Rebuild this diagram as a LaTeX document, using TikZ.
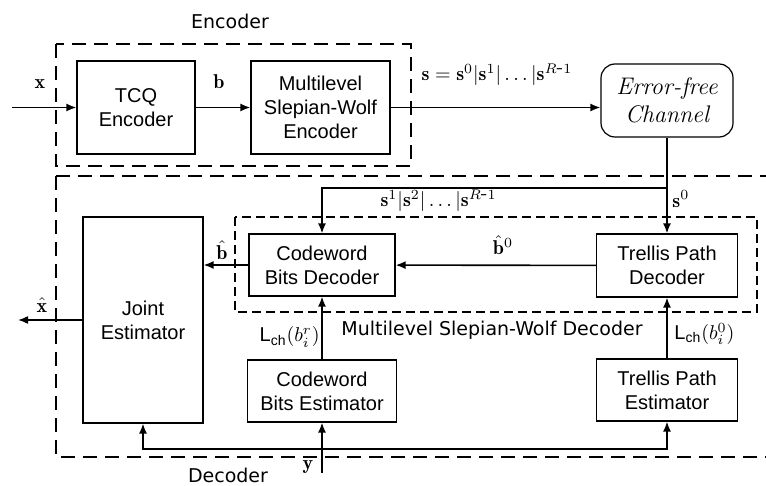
\documentclass[tikz,border=0pt]{standalone}
\usepackage{fontspec}
\setsansfont{Liberation Sans}
\newfontfamily\handfont{DejaVu Sans}
\usetikzlibrary{arrows.meta}

\begin{document}
\begin{tikzpicture}[x=0.5pt, y=-0.5pt, >={Latex[length=5pt,width=4pt]},
  blk/.style={draw, line width=0.6pt, inner sep=0pt, align=center, font=\sffamily},
  outerbox/.style={line width=1.25pt, dash pattern=on 7pt off 4pt},
  innerbox/.style={line width=0.8pt, dash pattern=on 4.5pt off 2.5pt},
  wire/.style={line width=0.8pt},
  lbl/.style={inner sep=0pt},
  tag/.style={inner sep=0pt, font=\handfont\fontsize{9.5}{11}\selectfont}]
\useasboundingbox (0,0) rectangle (766,486);
\def\bus{449}

\draw[outerbox] (56,44) rectangle (411,166);
\draw[outerbox] (56,176) -- (780,176) (56,176) -- (56,457) -- (780,457);
\draw[innerbox] (235,217) rectangle (757,312);

\node[blk, minimum width=59pt, minimum height=46.5pt] (tcq) at (136,107.5) {TCQ\\Encoder};
\node[blk, minimum width=69.5pt, minimum height=46.5pt] (mswenc) at (320.5,107.5) {Multilevel\\Slepian-Wolf\\Encoder};
\node[blk, rounded corners=7pt, minimum width=66pt, minimum height=36.5pt, font=\itshape\large] (chan) at (667,100.5) {Error-free\\Channel};
\node[blk, minimum width=73pt, minimum height=31pt] (cbd) at (322,265) {Codeword\\Bits Decoder};
\node[blk, minimum width=70.5pt, minimum height=31.5pt] (tpd) at (667,265.5) {Trellis Path\\Decoder};
\node[blk, minimum width=74.5pt, minimum height=31pt] (cbe) at (322,391) {Codeword\\Bits Estimator};
\node[blk, minimum width=70.5pt, minimum height=31pt] (tpe) at (667,390) {Trellis Path\\Estimator};
\node[blk, minimum width=60pt, minimum height=103pt] (joint) at (143,320) {Joint\\Estimator};

\coordinate (xin) at (12,107.5);
\coordinate (xout) at (18,320);
\coordinate (brk) at (667,188);
\coordinate (yin) at (322,473);
\coordinate (bus) at (322,\bus);

\draw[wire, ->] (xin) -- (tcq);
\draw[wire, ->] (tcq) -- (mswenc);
\draw[wire, ->] (mswenc) -- (mswenc -| chan.west);
\draw[wire, ->] (chan) -- (tpd);
\draw[wire, ->] (brk) -| (cbd.north);
\draw[wire, ->] (tpd) -- (cbd);
\draw[wire, ->] (cbd) -- (cbd -| joint.east);
\draw[wire, ->] (joint) -- (xout);
\draw[wire, ->] (cbe) -- (cbd);
\draw[wire, ->] (tpe) -- (tpd);
\draw[wire, ->] (yin) -- (cbe);
\draw[wire, <->] (joint.south) |- (bus) -| (tpe.south);

\node[lbl] (lx) at (40,84) {$\mathbf{x}$};
\node[lbl] (lb) at (219,82) {$\mathbf{b}$};
\node[lbl] (ls) at (497,75) {$\mathbf{s}=\mathbf{s}^0|\mathbf{s}^1|\ldots|\mathbf{s}^{R\mbox{-}1}$};
\node[lbl, anchor=east] (lsr) at (497,201) {$\mathbf{s}^1|\mathbf{s}^2|\ldots|\mathbf{s}^{R\mbox{-}1}$};
\node[lbl, anchor=west] (ls0) at (672,199) {$\mathbf{s}^0$};
\node[lbl] (lb0) at (503,245) {$\hat{\mathbf{b}}^0$};
\node[lbl] (lbh) at (222,250) {$\hat{\mathbf{b}}$};
\node[lbl] (lxh) at (42,305) {$\hat{\mathbf{x}}$};
\node[lbl, anchor=east] (lchr) at (320,337) {$\mathsf{L}_{\mathsf{ch}}(b_i^r)$};
\node[lbl, anchor=west] (lch0) at (674,334) {$\mathsf{L}_{\mathsf{ch}}(b_i^0)$};
\node[lbl] (ly) at (308,467) {$\mathbf{y}$};

\node[tag] (tenc) at (230,21) {Encoder};
\node[tag] (tdec) at (228,475) {Decoder};
\node[tag] (tmsw) at (492,330) {Multilevel Slepian-Wolf Decoder};
\end{tikzpicture}
\end{document}
